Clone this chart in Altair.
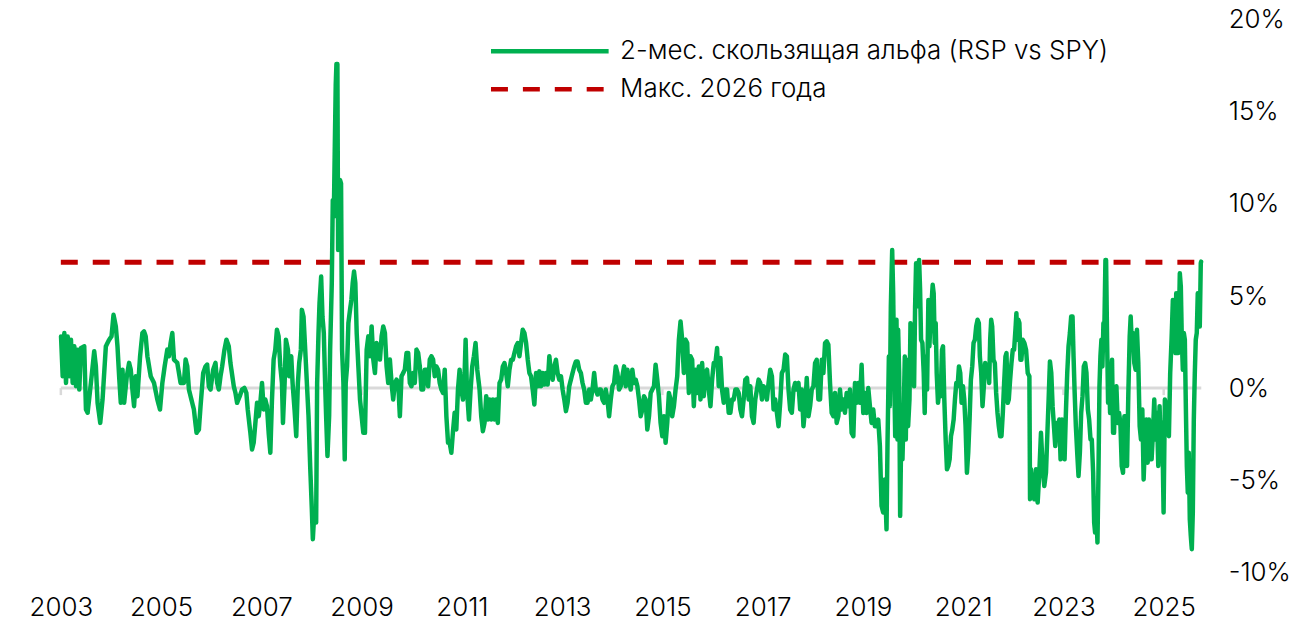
import altair as alt
import pandas as pd

S1 = "2-мес. скользящая альфа (RSP vs SPY)"
S2 = "Макс. 2026 года"
MAX_2026 = 6.84
YEAR_TICKS = [2003, 2005, 2007, 2009, 2011, 2013, 2015, 2017, 2019, 2021, 2023, 2025]
Y_TICKS = [-10, -5, 0, 5, 10, 15, 20]
X_START, X_END = 2003.0, 2025.75

# (decimal year, rolling alpha %)
ALPHA_2003_2006 = [
    (2003.004, 2.81), (2003.037, 0.64), (2003.070, 2.99), (2003.103, 0.28), (2003.136, 2.81),
    (2003.169, 0.64), (2003.202, 2.63), (2003.236, 0.28), (2003.269, 2.27), (2003.302, 0.10),
    (2003.335, 2.09), (2003.368, -0.08), (2003.401, 2.18), (2003.467, 2.27), (2003.501, -1.16),
    (2003.534, -1.34), (2003.600, 0.28), (2003.666, 2.00), (2003.699, 1.18), (2003.733, -0.80),
    (2003.786, -1.89), (2003.832, -0.62), (2003.898, 2.27), (2003.964, 2.63), (2004.011, 2.81),
    (2004.051, 3.98), (2004.097, 3.35), (2004.130, 2.27), (2004.163, 0.64), (2004.196, -0.80),
    (2004.230, 1.00), (2004.263, -0.80), (2004.316, 0.64), (2004.362, 1.37), (2004.395, 1.00),
    (2004.428, -0.08), (2004.461, -0.98), (2004.495, 0.64), (2004.528, -0.44), (2004.581, 1.73),
    (2004.627, 2.99), (2004.660, 3.08), (2004.693, 2.81), (2004.727, 1.73), (2004.793, 0.64),
    (2004.859, 0.28), (2004.925, -0.62), (2004.978, -1.16), (2005.025, 0.28), (2005.071, 1.18),
    (2005.124, 2.09), (2005.157, 1.73), (2005.190, 2.45), (2005.224, 2.99), (2005.257, 1.55),
    (2005.323, 1.37), (2005.389, 0.28), (2005.455, 0.28), (2005.489, 1.55), (2005.522, 1.18),
    (2005.555, -0.08), (2005.588, -0.44), (2005.654, -1.16), (2005.707, -2.43), (2005.754, -2.25),
    (2005.787, -0.98), (2005.840, 0.82), (2005.886, 1.18), (2005.919, 1.28), (2005.952, 0.10),
    (2005.986, -0.08), (2006.039, 1.00), (2006.085, 1.37), (2006.118, 0.28), (2006.151, -0.08),
    (2006.185, 0.64), (2006.218, 1.18), (2006.264, 2.09), (2006.304, 2.63), (2006.350, 2.27),
    (2006.383, 1.37), (2006.450, 0.10), (2006.483, -0.26), (2006.516, -0.80), (2006.569, -0.44),
    (2006.615, -0.08), (2006.662, 0.01), (2006.701, -0.26), (2006.728, -1.16), (2006.781, -2.43),
]

ALPHA_2006_2010 = [
    (2006.814, -3.33), (2006.847, -2.97), (2006.881, -1.89), (2006.914, -0.80), (2006.947, -1.53),
    (2006.980, -0.80), (2007.013, 0.28), (2007.046, -1.16), (2007.079, -0.62), (2007.112, -0.98),
    (2007.146, -2.43), (2007.179, -3.51), (2007.212, -0.62), (2007.245, 1.55), (2007.278, 2.09),
    (2007.311, 3.17), (2007.344, 2.81), (2007.378, 1.18), (2007.411, 0.28), (2007.431, -1.89),
    (2007.464, 0.28), (2007.490, 2.63), (2007.530, 2.09), (2007.556, 0.64), (2007.596, 1.73),
    (2007.623, 0.28), (2007.662, -1.16), (2007.696, -2.61), (2007.729, 0.28), (2007.755, 1.37),
    (2007.788, 2.09), (2007.808, 4.25), (2007.841, 3.89), (2007.875, 2.09), (2007.908, 0.28),
    (2007.941, -1.53), (2007.974, -4.23), (2008.007, -6.58), (2008.027, -8.21), (2008.060, -6.58),
    (2008.093, -7.30), (2008.113, 0.28), (2008.140, 2.99), (2008.160, 4.61), (2008.193, 6.06),
    (2008.219, 3.89), (2008.246, 2.99), (2008.272, 0.28), (2008.292, -1.53), (2008.319, -3.69),
    (2008.352, -1.53), (2008.372, 2.09), (2008.405, 5.70), (2008.425, 10.21), (2008.445, 9.31),
    (2008.464, 12.92), (2008.484, 16.53), (2008.498, 17.61), (2008.517, 17.61), (2008.531, 7.50),
    (2008.551, 9.31), (2008.570, 11.30), (2008.590, 11.11), (2008.610, 2.09), (2008.637, 0.28),
    (2008.663, -3.87), (2008.683, 0.28), (2008.710, 1.18), (2008.736, 3.53), (2008.769, 4.25),
    (2008.796, 4.80), (2008.822, 5.70), (2008.849, 6.33), (2008.875, 5.70), (2008.902, 2.99),
    (2008.935, 1.18), (2008.968, -0.62), (2009.001, -1.53), (2009.034, -2.43), (2009.067, -2.43),
    (2009.101, 2.09), (2009.134, 2.81), (2009.167, 1.73), (2009.200, 3.35), (2009.233, 1.55),
    (2009.266, 0.82), (2009.299, 2.45), (2009.332, 2.09), (2009.366, 1.55), (2009.399, 2.81),
    (2009.432, 3.35), (2009.465, 2.99), (2009.498, 1.18), (2009.531, 0.28), (2009.564, 1.55),
    (2009.597, 0.28), (2009.630, -0.62), (2009.664, 0.28), (2009.697, 0.46), (2009.730, 0.28),
    (2009.763, -1.53), (2009.796, 0.64), (2009.829, 0.82), (2009.862, 1.00), (2009.896, 1.91),
    (2009.929, 1.91), (2009.962, 0.28), (2009.995, 0.10), (2010.028, 0.82), (2010.061, 0.28),
    (2010.095, 2.09), (2010.128, 1.91), (2010.161, 1.18), (2010.194, -0.08), (2010.227, -0.08),
    (2010.260, 1.00), (2010.293, 1.00), (2010.327, 0.10), (2010.360, 1.55), (2010.393, 1.73),
    (2010.426, 1.55), (2010.459, 0.64), (2010.492, 1.18), (2010.525, 1.00), (2010.558, 0.28),
    (2010.592, -0.08), (2010.625, -0.26), (2010.658, 1.00), (2010.691, -1.53), (2010.724, -2.97),
]

ALPHA_2010_2014 = [
    (2010.757, -2.97), (2010.790, -3.51), (2010.823, -2.34), (2010.856, -1.34), (2010.889, -2.25),
    (2010.922, -0.08), (2010.955, 1.00), (2010.988, -0.08), (2011.022, -0.62), (2011.055, 0.82),
    (2011.075, 2.63), (2011.101, -0.08), (2011.141, -1.71), (2011.174, -0.08), (2011.207, 1.18),
    (2011.240, 1.73), (2011.273, 2.45), (2011.307, 1.00), (2011.353, -0.08), (2011.386, -1.53),
    (2011.419, -2.34), (2011.452, -1.89), (2011.486, -0.44), (2011.519, -1.71), (2011.552, -0.62),
    (2011.585, -1.71), (2011.618, -0.62), (2011.651, -1.71), (2011.684, -0.62), (2011.717, -1.89),
    (2011.751, 0.28), (2011.784, 0.46), (2011.817, 1.18), (2011.850, 1.36), (2011.883, 0.82),
    (2011.916, 0.10), (2011.949, 1.00), (2011.983, 1.54), (2012.016, 1.54), (2012.049, 1.91),
    (2012.082, 2.27), (2012.115, 2.45), (2012.148, 1.73), (2012.181, 2.45), (2012.214, 3.17),
    (2012.248, 2.99), (2012.281, 2.45), (2012.314, 1.54), (2012.347, 0.82), (2012.380, 0.64),
    (2012.413, -0.08), (2012.446, -0.89), (2012.480, 0.82), (2012.513, 0.10), (2012.546, 0.91),
    (2012.579, 0.10), (2012.612, 0.82), (2012.645, 0.19), (2012.678, 0.82), (2012.711, 0.19),
    (2012.745, 1.73), (2012.778, 0.82), (2012.811, 0.46), (2012.844, 1.18), (2012.877, 1.54),
    (2012.910, 0.82), (2012.943, 0.46), (2012.977, 0.64), (2013.010, -0.08), (2013.043, -0.62),
    (2013.076, -1.25), (2013.109, -0.80), (2013.142, 0.10), (2013.175, 0.46), (2013.208, 0.82),
    (2013.242, 1.18), (2013.275, 1.45), (2013.308, 1.45), (2013.341, 1.00), (2013.374, 0.82),
    (2013.407, 0.28), (2013.440, -0.08), (2013.474, -0.80), (2013.507, -0.80), (2013.540, -0.08),
    (2013.573, -0.62), (2013.606, -0.08), (2013.639, 0.82), (2013.672, -0.08), (2013.705, -0.35),
    (2013.738, -0.08), (2013.772, -0.08), (2013.805, -0.62), (2013.838, -0.80), (2013.871, -0.08),
    (2013.904, -0.62), (2013.937, -1.53), (2013.970, -0.62), (2014.004, 0.10), (2014.037, 0.28),
    (2014.070, 1.18), (2014.103, 0.82), (2014.136, -0.08), (2014.169, 0.10), (2014.202, 0.64),
    (2014.236, 1.18), (2014.269, 0.10), (2014.302, 1.00), (2014.335, 0.46), (2014.368, -0.08),
    (2014.401, 1.00), (2014.434, 0.28), (2014.468, 0.46), (2014.501, 0.10), (2014.534, -0.62),
    (2014.567, -1.53), (2014.600, -1.16), (2014.633, -0.44), (2014.666, -0.62), (2014.699, -2.25),
    (2014.733, -1.53), (2014.766, -0.26), (2014.799, -0.08),
]

ALPHA_2014_2018 = [
    (2014.832, 0.10), (2014.865, 1.27), (2014.898, 0.46), (2014.931, -0.44), (2014.964, -1.89),
    (2014.998, -2.61), (2015.031, -1.53), (2015.064, -2.97), (2015.097, -1.89), (2015.130, -0.26),
    (2015.163, -0.62), (2015.196, -1.53), (2015.230, -0.98), (2015.263, -0.08), (2015.296, 0.64),
    (2015.329, 2.63), (2015.362, 3.62), (2015.395, 2.63), (2015.428, 0.82), (2015.462, 2.63),
    (2015.495, 2.45), (2015.528, -0.26), (2015.561, 1.73), (2015.594, 1.54), (2015.627, -0.98),
    (2015.660, 1.00), (2015.693, -0.26), (2015.727, 1.18), (2015.760, -0.62), (2015.793, 1.36),
    (2015.826, -0.44), (2015.859, 0.82), (2015.892, 1.00), (2015.925, -0.08), (2015.959, -0.98),
    (2015.992, 0.46), (2016.025, 1.36), (2016.058, 1.36), (2016.091, 2.18), (2016.124, 0.10),
    (2016.157, 1.64), (2016.190, -0.08), (2016.224, -0.80), (2016.257, -0.08), (2016.290, -0.08),
    (2016.323, -1.34), (2016.356, -1.34), (2016.389, -0.62), (2016.422, -0.62), (2016.456, -0.08),
    (2016.489, -0.08), (2016.522, -0.26), (2016.555, -1.16), (2016.588, -1.53), (2016.621, -0.62),
    (2016.654, 0.46), (2016.688, 0.55), (2016.721, -0.62), (2016.754, 0.10), (2016.787, -1.53),
    (2016.820, -1.89), (2016.853, -0.62), (2016.886, -0.08), (2016.919, 0.46), (2016.953, 0.28),
    (2016.986, -0.62), (2017.019, 0.10), (2017.052, -0.08), (2017.085, -0.62), (2017.118, 0.28),
    (2017.151, 1.00), (2017.185, 0.64), (2017.218, -1.16), (2017.251, -0.62), (2017.284, -1.34),
    (2017.317, -2.07), (2017.350, -0.80), (2017.383, 0.82), (2017.417, 1.00), (2017.450, 1.82),
    (2017.483, 1.73), (2017.516, -0.08), (2017.549, -1.16), (2017.582, -1.34), (2017.615, -0.08),
    (2017.648, 0.28), (2017.682, -0.08), (2017.715, 0.28), (2017.748, -1.16), (2017.781, -0.08),
    (2017.814, -2.07), (2017.847, -1.16), (2017.880, 0.55), (2017.914, -1.53), (2017.947, -0.98),
    (2017.980, -0.08), (2018.013, 0.10), (2018.046, 1.36), (2018.079, 1.54), (2018.112, -0.62),
    (2018.145, -0.62), (2018.179, 1.54), (2018.212, 0.82), (2018.245, 2.45), (2018.278, 2.54),
    (2018.311, 2.36), (2018.344, 0.28), (2018.377, -1.34), (2018.411, -1.53), (2018.444, -0.26),
    (2018.477, -1.89), (2018.510, -1.53), (2018.543, -0.08), (2018.576, -1.16), (2018.609, -0.62),
    (2018.642, -1.34), (2018.676, -0.26), (2018.709, -0.98), (2018.742, -0.08), (2018.775, -2.43),
]

ALPHA_2018_2022 = [
    (2018.809, -2.61), (2018.842, 0.28), (2018.875, -0.80), (2018.908, 0.28), (2018.941, -0.80),
    (2018.974, 1.27), (2019.007, -1.35), (2019.040, -0.26), (2019.074, -1.35), (2019.107, 0.00),
    (2019.140, -0.98), (2019.173, -1.89), (2019.206, -1.16), (2019.239, -2.07), (2019.272, -2.07),
    (2019.306, -1.71), (2019.339, -3.15), (2019.372, -6.40), (2019.405, -6.76), (2019.438, -4.96),
    (2019.471, -7.67), (2019.491, -2.97), (2019.518, 1.72), (2019.537, -0.98), (2019.557, 4.43),
    (2019.584, 7.50), (2019.604, 5.15), (2019.624, 0.82), (2019.644, -2.61), (2019.670, 3.71),
    (2019.690, -2.79), (2019.703, 3.17), (2019.723, 0.82), (2019.743, -6.94), (2019.763, -2.79),
    (2019.789, -3.87), (2019.816, -0.98), (2019.836, 1.72), (2019.856, -2.79), (2019.876, 1.54),
    (2019.902, -2.07), (2019.929, -0.62), (2019.949, 3.53), (2019.982, 2.27), (2020.001, 2.63),
    (2020.021, 0.10), (2020.041, 4.43), (2020.061, 6.78), (2020.081, 4.43), (2020.101, 6.42),
    (2020.121, 6.96), (2020.141, 5.33), (2020.160, 2.63), (2020.187, 2.45), (2020.213, 0.82),
    (2020.233, -1.35), (2020.253, 1.72), (2020.280, -0.08), (2020.306, 4.79), (2020.326, 2.27),
    (2020.346, 3.53), (2020.373, 4.79), (2020.392, 5.61), (2020.412, 5.15), (2020.432, 2.45),
    (2020.452, 3.53), (2020.472, 0.82), (2020.498, -0.80), (2020.525, -0.08), (2020.551, -0.44),
    (2020.578, 2.08), (2020.598, 2.27), (2020.624, -0.62), (2020.651, -2.79), (2020.677, -4.41),
    (2020.704, -4.23), (2020.730, -3.87), (2020.757, -2.61), (2020.783, -2.25), (2020.810, -1.71),
    (2020.836, -0.62), (2020.863, 0.28), (2020.889, 0.10), (2020.916, 1.18), (2020.942, 0.82),
    (2020.969, -0.80), (2020.996, 0.10), (2021.022, -0.62), (2021.048, -2.07), (2021.075, -4.60),
    (2021.101, -3.51), (2021.128, -1.71), (2021.154, 0.46), (2021.181, 1.18), (2021.207, 2.45),
    (2021.234, 2.63), (2021.260, 3.35), (2021.287, 3.71), (2021.313, 3.53), (2021.333, 1.72),
    (2021.360, 0.82), (2021.386, -0.98), (2021.413, 0.10), (2021.439, 1.36), (2021.466, 0.82),
    (2021.492, 1.18), (2021.519, 0.28), (2021.539, 2.63), (2021.559, 3.71), (2021.579, 3.35),
    (2021.605, 1.54), (2021.632, 1.36), (2021.658, -0.26), (2021.685, -1.35), (2021.711, -2.07),
    (2021.738, -2.61), (2021.764, -2.61), (2021.791, -1.35), (2021.817, 0.28), (2021.844, 1.72),
    (2021.864, 1.90), (2021.890, -0.80), (2021.910, -0.62), (2021.937, 0.46), (2021.963, 1.36),
    (2021.990, 2.08), (2022.016, 2.08), (2022.043, 3.17), (2022.062, 4.07), (2022.082, 2.63),
    (2022.102, 3.71), (2022.122, 3.53), (2022.142, 1.54), (2022.162, 1.54), (2022.188, 2.63),
    (2022.221, 2.45), (2022.255, 2.08), (2022.288, 0.82), (2022.321, 0.64),
]

ALPHA_2022_2025 = [
    (2022.334, -6.04), (2022.353, -4.41), (2022.387, -5.50), (2022.420, -6.04), (2022.453, -4.41),
    (2022.486, -6.22), (2022.519, -4.60), (2022.552, -2.43), (2022.585, -4.23), (2022.618, -5.32),
    (2022.652, -4.60), (2022.685, -2.07), (2022.705, -0.62), (2022.731, 1.45), (2022.758, 0.82),
    (2022.784, -0.98), (2022.811, -2.07), (2022.837, -3.15), (2022.864, -1.89), (2022.890, -2.79),
    (2022.917, -1.71), (2022.943, -3.87), (2022.970, -1.71), (2022.996, -3.51), (2023.023, -3.87),
    (2023.049, -1.35), (2023.076, 0.82), (2023.102, 2.27), (2023.129, 2.99), (2023.155, 3.89),
    (2023.182, 3.89), (2023.202, 1.72), (2023.222, -0.08), (2023.248, -2.07), (2023.275, -3.51),
    (2023.301, -4.78), (2023.328, -3.51), (2023.354, -1.35), (2023.381, -0.44), (2023.407, 1.18),
    (2023.434, 1.36), (2023.460, 0.82), (2023.487, -1.16), (2023.513, -1.71), (2023.540, -2.79),
    (2023.566, -2.79), (2023.593, -4.60), (2023.613, -7.30), (2023.632, -7.85), (2023.659, -6.94),
    (2023.679, -8.39), (2023.699, -4.60), (2023.719, 0.10), (2023.738, 1.72), (2023.758, 2.63),
    (2023.778, 1.18), (2023.798, 3.53), (2023.818, 3.53), (2023.838, 6.96), (2023.851, 6.96),
    (2023.871, 2.63), (2023.891, -0.80), (2023.911, 0.82), (2023.931, -1.35), (2023.950, 0.10),
    (2023.970, 1.54), (2023.990, -2.43), (2024.010, -2.43), (2024.030, -0.26), (2024.057, 0.10),
    (2024.083, -1.89), (2024.110, -1.35), (2024.136, -1.89), (2024.163, -4.23), (2024.189, -4.60),
    (2024.216, -1.53), (2024.242, -1.53), (2024.269, -4.23), (2024.295, -0.26), (2024.322, 2.81),
    (2024.342, 3.89), (2024.361, 2.63), (2024.388, 2.99), (2024.414, 1.36), (2024.441, 1.00),
    (2024.467, 3.17), (2024.494, 1.36), (2024.521, -2.07), (2024.547, -2.79), (2024.574, -1.16),
    (2024.600, -4.96), (2024.627, -2.97), (2024.653, -1.71), (2024.680, -4.05), (2024.706, -1.71),
    (2024.733, -3.87), (2024.759, -3.87), (2024.786, -2.43), (2024.812, -0.62), (2024.839, -2.79),
    (2024.865, -1.35), (2024.892, -4.23), (2024.918, -0.98), (2024.945, -3.51), (2024.971, -1.89),
    (2024.998, -6.76), (2025.024, -0.62), (2025.051, -0.98), (2025.077, -0.80), (2025.104, -2.61),
    (2025.130, 0.82), (2025.157, 2.63), (2025.183, 4.79), (2025.210, 4.61), (2025.236, 1.90),
    (2025.250, 5.15), (2025.270, 3.53), (2025.289, 1.90), (2025.309, 4.43), (2025.322, 6.24),
    (2025.342, 5.51), (2025.362, 2.63), (2025.382, 1.00), (2025.402, 2.99), (2025.422, 2.63),
    (2025.442, -0.98), (2025.462, -4.23), (2025.481, -5.68), (2025.501, -3.51), (2025.521, -7.12),
    (2025.541, -8.03), (2025.561, -8.75), (2025.581, -6.76), (2025.601, -1.71), (2025.621, 0.82),
    (2025.640, 2.63), (2025.660, 2.99), (2025.680, 5.15), (2025.700, 3.35), (2025.720, 3.35),
    (2025.740, 6.78), (2025.747, 6.87),
]

rows = (ALPHA_2003_2006 + ALPHA_2006_2010 + ALPHA_2010_2014
        + ALPHA_2014_2018 + ALPHA_2018_2022 + ALPHA_2022_2025)
alpha_df = pd.DataFrame(rows, columns=["t", "v"])
alpha_df["series"] = S1

max_df = pd.DataFrame({"t": [X_START], "t2": [X_END], "v": [MAX_2026], "series": [S2]})
zero_df = pd.DataFrame({"t": [X_START], "t2": [X_END], "v": [0.0]})
tick_df = pd.DataFrame({"t": YEAR_TICKS, "v": [0.0] * len(YEAR_TICKS), "v2": [-0.38] * len(YEAR_TICKS)})

FONT = "Inter"
FS = 26
GREEN = "#00b050"
RED = "#c00000"
GRAY = "#d9d9d9"

xscale = alt.Scale(domain=[X_START, X_END], nice=False, zero=False)
yscale = alt.Scale(domain=[-10, 20], nice=False, zero=False)

legend_opts = dict(
    title=None, orient="none", legendX=476, legendY=17, symbolType="M-5,0H5",
    symbolSize=557, symbolStrokeWidth=4.5, labelFontSize=FS, labelFont=FONT,
    labelFontWeight=300, labelColor="#000000", labelOffset=56, rowPadding=10,
    padding=0, labelLimit=800,
)
color = alt.Color(
    "series:N",
    scale=alt.Scale(domain=[S1, S2], range=[GREEN, RED]),
    sort=[S1, S2],
    legend=alt.Legend(**legend_opts),
)
dash = alt.StrokeDash(
    "series:N",
    scale=alt.Scale(domain=[S1, S2], range=[[1, 0], [17, 15]]),
    sort=[S1, S2],
    legend=alt.Legend(**legend_opts),
)

x_axis = alt.Axis(
    values=YEAR_TICKS, format="d", domain=False, ticks=False, grid=False,
    labelFontSize=FS, labelFont=FONT, labelFontWeight=300, labelColor="#000000",
    labelPadding=22, labelFlush=False, title=None,
)
y_axis = alt.Axis(
    orient="right", values=Y_TICKS, labelExpr="datum.value + '%'", domain=False,
    ticks=False, grid=False, labelFontSize=FS, labelFont=FONT, labelFontWeight=300,
    labelColor="#000000", labelPadding=27, labelAlign="left", title=None,
)

zero_line = alt.Chart(zero_df).mark_rule(color=GRAY, strokeWidth=3).encode(
    x=alt.X("t:Q", scale=xscale, axis=x_axis), x2="t2:Q",
    y=alt.Y("v:Q", scale=yscale, axis=y_axis),
)
ticks = alt.Chart(tick_df).mark_rule(color=GRAY, strokeWidth=2.5).encode(
    x=alt.X("t:Q", scale=xscale), y=alt.Y("v:Q", scale=yscale), y2="v2:Q",
)
max_line = alt.Chart(max_df).mark_rule(strokeWidth=5).encode(
    x=alt.X("t:Q", scale=xscale), x2="t2:Q", y=alt.Y("v:Q", scale=yscale),
    color=color, strokeDash=dash,
)
alpha_line = alt.Chart(alpha_df).mark_line(strokeWidth=4.5, strokeJoin="round", strokeCap="round").encode(
    x=alt.X("t:Q", scale=xscale), y=alt.Y("v:Q", scale=yscale),
    color=color, strokeDash=dash,
)

chart = alt.layer(zero_line, ticks, max_line, alpha_line).properties(
    width=1144, height=554,
    autosize=alt.AutoSizeParams(type="none"),
    padding={"left": 53, "top": 11, "right": 90, "bottom": 50},
).configure(
    font=FONT, background="white", view=alt.ViewConfig(strokeWidth=0, stroke="transparent"),
)

chart.save("out.html", embed_options={"renderer": "svg", "actions": False})
